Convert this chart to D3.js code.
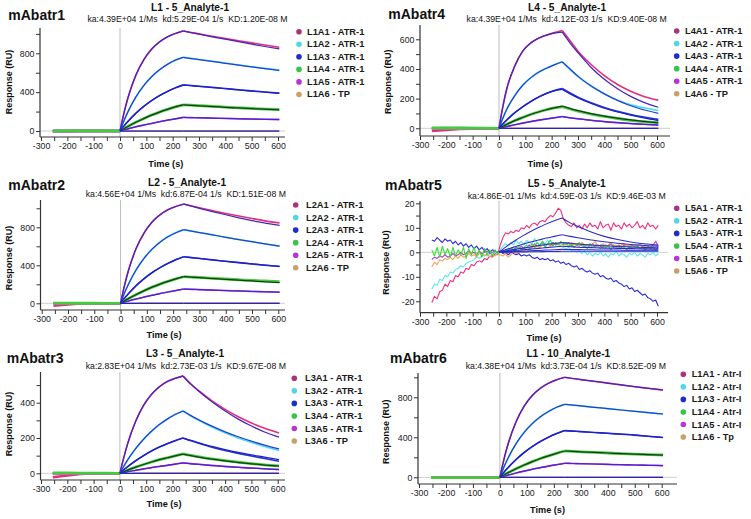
<!DOCTYPE html>
<html><head><meta charset="utf-8">
<script src="https://cdn.jsdelivr.net/npm/d3@7"></script>
<style>body{margin:0;background:#fff}svg{display:block}</style>
</head><body>
<svg id="c" width="751" height="519"></svg>
<script>
// ---------- shared time axes ----------
const T_FULL = [-255,-200,-150,-100,-50,0,15,30,60,90,120,150,180,210,240,270,300,350,400,450,500,550,605];
const T_FIT  = [0,15,30,60,90,120,150,180,210,240,270,300,350,400,450,500,550,605];
const T5 = [-255,-245,-235,-225,-215,-205,-195,-185,-175,-165,-155,-145,-135,-125,-115,-105,-95,-85,-75,-65,-55,-45,-35,-25,-15,-5,
  5,15,25,35,45,55,65,75,85,95,105,115,125,135,145,155,165,175,185,195,205,215,225,235,
  245,255,265,275,285,295,305,315,325,335,345,355,365,375,385,395,405,415,425,435,445,455,465,475,485,495,505,515,525,535,545,555,565,575,585,595,605];
const T5_FIT = [0,30,60,90,120,150,180,210,240,270,300,350,400,450,500,550,605];
const X_TICKS = [-300,-250,-200,-150,-100,-50,0,50,100,150,200,250,300,350,400,450,500,550,600];
const X_LABELS = [-300,-200,-100,0,100,200,300,400,500,600];

// ---------- panel texts ----------
const NAMES = ["mAbatr1","mAbatr2","mAbatr3","mAbatr4","mAbatr5","mAbatr6"];
const TITLES = ["L1 - 5_Analyte-1","L2 - 5_Analyte-1","L3 - 5_Analyte-1","L4 - 5_Analyte-1","L5 - 5_Analyte-1","L1 - 10_Analyte-1"];
const SUBTITLES = [
  "ka:4.39E+04 1/Ms  kd:5.29E-04 1/s  KD:1.20E-08 M",
  "ka:4.56E+04 1/Ms  kd:6.87E-04 1/s  KD:1.51E-08 M",
  "ka:2.83E+04 1/Ms  kd:2.73E-03 1/s  KD:9.67E-08 M",
  "ka:4.39E+04 1/Ms  kd:4.12E-03 1/s  KD:9.40E-08 M",
  "ka:4.86E-01 1/Ms  kd:4.59E-03 1/s  KD:9.46E-03 M",
  "ka:4.38E+04 1/Ms  kd:3.73E-04 1/s  KD:8.52E-09 M"];
const LEGEND_P1 = ["L1A1 - ATR-1","L1A2 - ATR-1","L1A3 - ATR-1","L1A4 - ATR-1","L1A5 - ATR-1","L1A6 - TP"];
const LEGEND_P2 = ["L2A1 - ATR-1","L2A2 - ATR-1","L2A3 - ATR-1","L2A4 - ATR-1","L2A5 - ATR-1","L2A6 - TP"];
const LEGEND_P3 = ["L3A1 - ATR-1","L3A2 - ATR-1","L3A3 - ATR-1","L3A4 - ATR-1","L3A5 - ATR-1","L3A6 - TP"];
const LEGEND_P4 = ["L4A1 - ATR-1","L4A2 - ATR-1","L4A3 - ATR-1","L4A4 - ATR-1","L4A5 - ATR-1","L4A6 - TP"];
const LEGEND_P5 = ["L5A1 - ATR-1","L5A2 - ATR-1","L5A3 - ATR-1","L5A4 - ATR-1","L5A5 - ATR-1","L5A6 - TP"];
const LEGEND_P6 = ["L1A1 - Atr-I","L1A2 - Atr-I","L1A3 - Atr-I","L1A4 - Atr-I","L1A5 - Atr-I","L1A6 - Tp"];

// ---------- P1 (L1 5_Analyte-1) ----------
const P1_DATA = [
  [-3,-1,0,0,0,0, 185,340,573,732,843,917,969,1004,1030, 1015,1000,975,952,930,907,885,862],
  [0,0,0,0,0,0, 106,197,349,467,559,630,686,729,760, 748,737,718,700,681,662,645,628],
  [0,0,0,0,0,0, 52,98,182,253,313,364,407,444,475, 468,461,450,438,425,413,402,390],
  [2,2,2,2,2,0, 24,47,90,128,164,195,223,248,270, 266,261,254,246,239,232,226,222],
  [0,0,0,0,0,0, 11,22,43,61,78,96,111,125,140, 138,136,133,129,126,123,121,120],
  [0,0,0,0,0,0, 1,1,2,2,2,3,3,3,3, 3,3,3,3,3,3,3,3]];
const P1_FIT = [
  [0,185,340,573,732,843,917,969,1004,1030, 1013,997,970,945,920,895,870,845],
  [0,106,197,349,467,559,630,686,729,758, 746,735,716,697,678,660,642,622],
  [0,52,98,182,253,313,364,407,444,473, 466,459,447,435,423,411,400,388],
  [0,24,47,90,128,164,195,223,248,268, 264,259,252,244,237,230,224,217],
  [0,11,22,43,61,78,96,111,125,140, 138,136,133,129,126,123,120,117],
  [0,0,0,0,0,0,0,0,0,0, 0,0,0,0,0,0,0,0]];

// ---------- P2 ----------
const P2_DATA = [
  [-25,-12,-2,0,0,0, 188,345,582,743,856,931,984,1019,1045, 1025,1005,975,946,918,892,868,845],
  [0,0,0,0,0,0, 108,201,356,476,570,643,700,743,775, 760,745,720,695,671,648,625,602],
  [0,0,0,0,0,0, 54,101,188,261,323,375,420,459,490, 481,472,457,442,428,414,401,388],
  [2,2,2,2,1,0, 25,49,93,133,170,202,231,257,280, 276,272,264,256,248,241,235,229],
  [0,0,0,0,0,0, 12,24,46,66,84,103,119,134,150, 147,144,139,134,130,125,121,117],
  [0,0,0,0,0,0, 1,1,1,2,2,2,2,2,2, 2,2,2,2,2,2,2,2]];
const P2_FIT = [
  [0,188,345,582,743,856,931,984,1019,1045, 1022,1000,965,932,900,870,845,820],
  [0,108,201,356,476,570,643,700,743,775, 760,745,720,695,671,648,625,602],
  [0,54,101,188,261,323,375,420,459,490, 481,472,457,442,428,414,401,388],
  [0,25,49,93,133,170,202,231,257,280, 275,270,261,252,243,235,226,218],
  [0,12,24,46,66,84,103,119,134,150, 147,144,139,134,130,125,121,117],
  [0,0,0,0,0,0,0,0,0,0, 0,0,0,0,0,0,0,0]];

// ---------- P3 ----------
const P3_DATA = [
  [-22,-12,-4,0,0,0, 90,170,295,385,447,490,520,538,552, 505,468,410,362,320,285,255,228],
  [0,0,0,0,0,0, 40,77,140,193,238,276,307,333,353, 325,300,262,229,200,175,152,130],
  [0,0,0,0,0,0, 20,38,71,100,126,149,168,185,200, 184,170,148,129,113,98,84,68],
  [3,3,2,2,2,0, 9,18,35,50,64,77,88,99,110, 101,93,82,72,63,55,48,42],
  [0,0,0,0,0,0, 4,9,17,25,32,39,45,52,60, 55,51,45,39,34,30,26,22],
  [0,0,0,0,0,0, 0,0,1,1,1,1,1,1,1, 1,1,1,1,1,1,1,1]];
const P3_FIT = [
  [0,90,170,295,385,447,490,520,538,550, 505,465,405,353,307,268,234,205],
  [0,40,77,140,193,238,276,307,333,353, 327,303,267,235,207,182,160,138],
  [0,20,38,71,100,126,149,168,185,200, 186,173,152,134,118,104,92,78],
  [0,9,18,35,50,64,77,88,99,108, 100,92,80,70,61,54,47,40],
  [0,4,9,17,25,32,39,45,52,58, 54,50,44,38,33,29,25,21],
  [0,0,0,0,0,0,0,0,0,0, 0,0,0,0,0,0,0,0]];

// ---------- P4 ----------
const P4_DATA = [
  [-18,-11,-5,-2,0,0, 150,270,420,520,575,607,628,645,660, 590,520,430,355,295,250,215,190],
  [0,1,1,1,0,0, 70,130,220,290,340,378,405,428,447, 395,350,285,232,190,158,138,120],
  [0,0,0,0,0,0, 30,57,105,145,180,210,235,255,268, 238,210,172,140,114,93,76,60],
  [4,3,3,2,2,0, 14,27,52,73,93,110,125,138,145, 130,116,96,80,66,54,45,38],
  [0,0,0,0,0,0, 6,12,24,35,45,55,63,71,79, 71,64,54,45,38,32,27,22],
  [0,0,0,0,0,0, 0,0,0,0,0,0,0,0,0, 0,0,0,0,0,0,0,0]];
const P4_FIT = [
  [0,150,270,420,520,575,607,628,642,648, 575,510,410,330,267,215,175,142],
  [0,70,130,220,290,340,378,405,428,449, 400,350,285,232,188,152,125,100],
  [0,30,57,105,145,180,210,235,252,262, 232,205,167,135,110,89,70,52],
  [0,14,27,52,73,93,110,125,138,150, 134,119,99,82,68,56,46,36],
  [0,6,12,24,35,45,55,63,71,79, 71,64,54,45,38,32,27,22],
  [0,0,0,0,0,0,0,0,0,0, 0,0,0,0,0,0,0,0]];

// ---------- P5 (noisy) ----------
const P5_DATA = [
  [-20.5,-18,-19,-16,-15.5,-13,-14,-11.5,-12,-9.5,-10,-8,-8.5,-6.5,-7,-5,-5.5,-4,-3.5,-4,-2.5,-3,-1.5,-2,-0.5,-1,
   3,6,8,7.5,8.5,8,9,8.5,10,9.5,11,10,11.5,12,11,12.5,13,12.5,14,15,14.5,16,18,17,
   13.5,12,11,10.5,12,10,11,9.5,11.5,10,12,10.5,11,9.5,12.5,10,11,11.5,9,12,10.5,11,9.5,12,10.5,11.5,10,11,12.5,10,11,9.5,12,10.5,11,9.5,11],
  [-15,-13,-13.5,-11,-11.5,-9.5,-10,-8,-8.5,-7,-6.5,-5.5,-6,-4.5,-4,-3.5,-3,-2,-2.5,-1.5,-1,-1.5,-0.5,-1,0,-0.5,
   1,2.5,3.5,2.5,4,3,5,3.5,4.5,3,5,4,3.5,5.5,4,3,4.5,3.5,5,3,4,3,3.5,2.5,
   2,1.5,2,0.5,1,0,0.5,-0.5,0.5,-1,0,-1.5,-0.5,-1,0,-1.5,-0.5,-2,-0.5,-1,0.5,-1.5,-0.5,-1,-2,-0.5,-1,0,-1.5,-0.5,-1,-2,-0.5,-1,0,-1.5,-0.5],
  [5,4.5,6,5,4,5.5,4.5,5,3.5,4.5,3,4,2.5,3.5,2,3,1.5,2.5,1,2,0.5,1.5,0,1,0.5,0,
   0.5,-0.5,0,-1,0,-0.5,-1,-0.5,-1.5,-1,-1.5,-1,-2,-2.5,-2,-3,-2.5,-3,-2.5,-3.5,-3,-4,-3.5,-4.5,
   -4,-5,-4.5,-5.5,-6,-5.5,-7,-6.5,-7.5,-8,-7.5,-8.5,-9,-8.5,-10,-9.5,-10.5,-11,-10.5,-12,-11.5,-12.5,-13,-14,-13.5,-15,-14.5,-16,-15.5,-16.5,-17.5,-17,-18.5,-19,-20,-19.5,-22],
  [1,-1.5,2,-2,2.5,-1,1.5,-2,2,-1.5,1,-1,2,-2.5,1.5,-1,2,-1.5,1,-2,1.5,-1,1,-1.5,1,-0.5,
   0.5,1,0,1.5,0.5,2,1,2.5,1,2,3,1.5,3.5,2,4,2.5,4.5,2,3.5,5,2.5,4,3,4.5,
   3,4,2.5,3.5,2,3,4,2.5,3,1.5,3.5,2,3,2.5,1.5,3,2,2.5,1,3,2,1.5,2.5,2,1,2.5,1.5,2,3,1.5,2,1,2.5,1.5,2,1,2],
  [-3,-2,-2.5,-1.5,-2,-1,-2,-1.5,-0.5,-1.5,-1,0,-1,-0.5,0.5,-0.5,0,-1,0.5,-0.5,0,0.5,-0.5,0,0.5,0,
   0.5,0,1,0.5,1.5,1,2,1.5,2.5,1.5,2,3,2,3.5,2.5,3,4,3,3.5,2.5,4,3,3.5,4,
   3.5,3,4,2.5,3.5,3,2.5,3.5,2,3,2.5,3.5,2,3,2.5,2,3,2.5,3.5,2,2.5,3,2,3,2.5,2,3,2.5,2,3.5,2,3,2.5,2,3,4.5,2.5],
  [-6,-4,-5,-3,-3.5,-2.5,-3,-2,-3,-1.5,-2.5,-1,-2,-1.5,-0.5,-1.5,-1,-2,-0.5,-1,-1.5,-0.5,-2,-1,-1.5,-0.5,
   -1,-1.5,-0.5,-2,-1,0,-0.5,0.5,1,0.5,1.5,1,2,1.5,2.5,2,3,2.5,3.5,2.5,3,4,3,3.5,
   3,3.5,2.5,4,3,3.5,2.5,4,3,2.5,3.5,3,4.5,2.5,3,3.5,2.5,3,4,2.5,3,2,3,3.5,2.5,3,2,3,2.5,3.5,2,2.5,3,2,2.5,3,2]];
const P5_FIT = [
  [0,2.5,4.7,6.7,8.5,10.1,11.6,12.9,14, 12,10.5,8.3,6.5,5.2,4.2,3.5,3],
  [0,1.2,2.3,3.3,4.2,5,5.8,6.5,7.2, 6.5,5.9,5,4.3,3.7,3.2,2.8,2.5],
  [0,0.6,1.2,1.7,2.2,2.7,3.2,3.6,4, 3.7,3.4,3,2.7,2.4,2.2,2,1.8],
  [0,0.35,0.7,1,1.3,1.6,1.9,2.2,2.5, 2.3,2.1,1.9,1.7,1.6,1.5,1.4,1.3],
  [0,0.15,0.3,0.45,0.6,0.75,0.9,1.05,1.2, 1.15,1.1,1,0.95,0.9,0.85,0.8,0.8],
  [0,0.05,0.1,0.15,0.2,0.25,0.3,0.35,0.4, 0.4,0.4,0.4,0.4,0.4,0.4,0.4,0.4]];

// ---------- P6 (L1 10_Analyte-1) ----------
const P6_DATA = [
  [-5,-5,-5,-5,-5,0, 180,330,556,712,818,890,940,975,1000, 988,977,960,942,924,906,890,873],
  [-5,-5,-5,-5,-5,0, 102,190,336,450,537,605,658,700,730, 722,714,700,687,673,660,647,633],
  [-5,-5,-5,-5,-5,0, 51,96,178,248,307,358,401,437,467, 462,457,448,440,431,422,410,398],
  [-5,-5,-5,-5,-5,0, 23,45,86,123,157,188,215,240,263, 259,255,249,243,237,232,227,223],
  [-5,-5,-5,-5,-5,0, 11,22,43,62,80,96,112,126,140, 138,136,133,129,126,123,120,117],
  [-5,-5,-5,-5,-5,0, 0,0,0,0,0,0,0,0,0, 0,0,0,0,0,0,0,0]];
const P6_FIT = [
  [0,180,330,556,712,818,890,940,975,1000, 988,977,960,942,924,906,890,873],
  [0,102,190,336,450,537,605,658,700,730, 722,714,700,687,673,660,647,633],
  [0,51,96,178,248,307,358,401,437,467, 462,457,448,440,431,422,410,398],
  [0,23,45,86,123,157,188,215,240,263, 259,255,249,243,237,232,227,222],
  [0,11,22,43,62,80,96,112,126,140, 138,136,133,129,126,123,120,117],
  [0,0,0,0,0,0,0,0,0,0, 0,0,0,0,0,0,0,0]];

// ---------- styles ----------
const DATA_COLORS = ["#e2307c","#45dcef","#2233d4","#45cc3a","#b232de","#d6a062"];
const NOISY_COLORS = ["#ec2f80","#5ae6f6","#2a2ad8","#33dd33","#c030e0","#f2a352"];
const FIT_COLORS = ["#4524c0","#2240d0","#2020c4","#103c1c","#4a24c8","#2424c8"];
const LEGEND_COLORS = ["#a8357c","#50d6e8","#1c2ec8","#34c646","#b436d4","#c9a068"];
const DRAW_ORDER = [0,1,2,4,5,3];
const FONT = "'Liberation Sans', Arial, sans-serif";

const panels = [
  {data:P1_DATA, fit:P1_FIT, t:T_FULL, tf:T_FIT, noisy:false, legend:LEGEND_P1,
   xa:41, xb:278, ya:[0,131], yb:[800,53.3], left:40, right:285, top:28, bottom:137,
   yTicks:[0,200,400,600,800,1000], yLabels:[0,400,800],
   name:[8.3,19.5], title:[190,10.5], sub:[187.5,22], leg:[299,31.7,307], ylab:[8.5,82], xlab:[165.8,166.5]},
  {data:P2_DATA, fit:P2_FIT, t:T_FULL, tf:T_FIT, noisy:false, legend:LEGEND_P2,
   xa:41.7, xb:278.3, ya:[0,303.3], yb:[800,227.3], left:40.5, right:285, top:200, bottom:310,
   yTicks:[0,200,400,600,800,1000], yLabels:[0,400,800],
   name:[8.3,190], title:[187,185.5], sub:[185.8,196.5], leg:[295.7,205,306], ylab:[8.5,258], xlab:[164,338]},
  {data:P3_DATA, fit:P3_FIT, t:T_FULL, tf:T_FIT, noisy:false, legend:LEGEND_P3,
   xa:41, xb:277.7, ya:[0,473.3], yb:[400,402.7], left:40.5, right:285, top:372, bottom:480,
   yTicks:[0,100,200,300,400,500], yLabels:[0,200,400],
   name:[6.7,362.7], title:[185,357.3], sub:[185.8,368.5], leg:[294.3,378.3,305], ylab:[8.5,424], xlab:[164,506.7]},
  {data:P4_DATA, fit:P4_FIT, t:T_FULL, tf:T_FIT, noisy:false, legend:LEGEND_P4,
   xa:420, xb:657, ya:[0,128.3], yb:[600,39.3], left:420, right:670, top:25, bottom:136,
   yTicks:[0,100,200,300,400,500,600], yLabels:[0,200,400,600],
   name:[388.3,18.5], title:[567,10.5], sub:[566.7,22], leg:[676.7,31,685], ylab:[387.5,81.7], xlab:[545,166.7]},
  {data:P5_DATA, fit:P5_FIT, t:T5, tf:T5_FIT, noisy:true, legend:LEGEND_P5,
   xa:420, xb:657, ya:[0,252.3], yb:[10,227.8], left:420, right:668, top:201, bottom:312.7,
   yTicks:[-20,-15,-10,-5,0,5,10,15,20], yLabels:[-20,-10,0,10,20],
   name:[385,189.5], title:[566.7,187.3], sub:[566.7,198.5], leg:[676.7,208.3,685], ylab:[385.8,262.5], xlab:[544,340.7]},
  {data:P6_DATA, fit:P6_FIT, t:T_FULL, tf:T_FIT, noisy:false, legend:LEGEND_P6,
   xa:419, xb:661.7, ya:[0,477.3], yb:[800,397.3], left:418, right:677, top:373, bottom:484,
   yTicks:[0,200,400,600,800,1000], yLabels:[0,400,800],
   name:[390,362.7], title:[568.3,356.7], sub:[565.8,368.5], leg:[683.3,374.3,691.7], ylab:[385.8,431.7], xlab:[547.5,513.3]}
];

const svg = d3.select("#c");

panels.forEach((p, pi) => {
  const g = svg.append("g");
  const x = d3.scaleLinear().domain([-300, 600]).range([p.xa, p.xb]);
  const y = d3.scaleLinear().domain([p.ya[0], p.yb[0]]).range([p.ya[1], p.yb[1]]);

  // reference lines
  g.append("line").attr("x1", p.left).attr("x2", p.right).attr("y1", y(0)).attr("y2", y(0))
    .attr("stroke", "#cfcfcf").attr("stroke-width", 1);
  g.append("line").attr("x1", x(0)).attr("x2", x(0)).attr("y1", p.top).attr("y2", p.bottom)
    .attr("stroke", "#bcbcbc").attr("stroke-width", 1);

  // data
  const pts = arr => arr.map((v, i) => [p.t[i], v]).filter(d => d[0] !== undefined);
  const line = d3.line().x(d => x(d[0])).y(d => y(d[1]));
  const dataG = g.append("g").attr("fill", "none");
  DRAW_ORDER.forEach(ci => {
    const P = pts(p.data[ci]);
    if (p.noisy) {
      dataG.append("path").attr("d", line.curve(d3.curveLinear)(P))
        .attr("stroke", NOISY_COLORS[ci]).attr("stroke-width", 1.1).attr("stroke-linejoin", "round");
    } else {
      const i0 = P.findIndex(d => d[0] === 0), i1 = P.findIndex(d => d[0] === 240);
      const segs = [P.slice(0, i0 + 1), P.slice(i0, i1 + 1), P.slice(i1)];
      segs.forEach((s, si) => {
        dataG.append("path").attr("d", line.curve(si === 0 ? d3.curveLinear : d3.curveMonotoneX)(s))
          .attr("stroke", DATA_COLORS[ci]).attr("stroke-width", si === 0 ? 2.6 : (ci === 3 ? 2.8 : 1.6));
      });
    }
  });

  // fits
  const fitG = g.append("g").attr("fill", "none");
  p.fit.forEach((arr, ci) => {
    const P = arr.map((v, i) => [p.tf[i], v]);
    const i1 = P.findIndex(d => d[0] === 240);
    [P.slice(0, i1 + 1), P.slice(i1)].forEach(s => {
      fitG.append("path").attr("d", line.curve(d3.curveMonotoneX)(s))
        .attr("stroke", p.noisy ? "#2a2ac8" : FIT_COLORS[ci]).attr("stroke-width", p.noisy ? 1.05 : 1.25);
    });
  });

  // axes
  const ax = d3.axisBottom(x).tickValues(X_TICKS)
    .tickFormat(d => X_LABELS.includes(d) ? String(d) : "").tickSize(4).tickPadding(2);
  const axG = g.append("g").attr("transform", `translate(0,${p.bottom})`).call(ax);
  axG.select(".domain").remove();
  const ay = d3.axisLeft(y).tickValues(p.yTicks)
    .tickFormat(d => p.yLabels.includes(d) ? String(d) : "").tickSize(4).tickPadding(1.5);
  const ayG = g.append("g").attr("transform", `translate(${p.left},0)`).call(ay);
  ayG.select(".domain").remove();
  [axG, ayG].forEach(s => {
    s.attr("font-family", FONT).attr("font-size", 8.8);
    s.selectAll("line").attr("stroke", "#333");
    s.selectAll("text").attr("fill", "#222");
  });
  g.append("line").attr("x1", p.left).attr("x2", p.right).attr("y1", p.bottom).attr("y2", p.bottom)
    .attr("stroke", "#333").attr("stroke-width", 1.2);
  g.append("line").attr("x1", p.left).attr("x2", p.left).attr("y1", p.top).attr("y2", p.bottom)
    .attr("stroke", "#333").attr("stroke-width", 1.2);

  // texts
  g.append("text").attr("x", p.name[0]).attr("y", p.name[1]).text(NAMES[pi])
    .attr("font-family", FONT).attr("font-weight", "bold").attr("font-size", 14).attr("fill", "#111");
  g.append("text").attr("x", p.title[0]).attr("y", p.title[1]).text(TITLES[pi]).attr("text-anchor", "middle")
    .attr("font-family", FONT).attr("font-weight", "bold").attr("font-size", 10.2).attr("fill", "#111");
  g.append("text").attr("x", p.sub[0]).attr("y", p.sub[1]).text(SUBTITLES[pi]).attr("text-anchor", "middle")
    .attr("font-family", FONT).attr("font-size", 8.7).attr("fill", "#111").style("white-space", "pre");
  g.append("text").attr("transform", `translate(${p.ylab[0]},${p.ylab[1]}) rotate(-90)`)
    .attr("text-anchor", "middle").attr("dominant-baseline", "central").text("Response (RU)")
    .attr("font-family", FONT).attr("font-weight", "bold").attr("font-size", 9).attr("fill", "#111");
  g.append("text").attr("x", p.xlab[0]).attr("y", p.xlab[1]).attr("text-anchor", "middle").text("Time (s)")
    .attr("font-family", FONT).attr("font-weight", "bold").attr("font-size", 9.2).attr("fill", "#111");

  // legend
  const lg = g.append("g");
  p.legend.forEach((lab, i) => {
    const cy = p.leg[1] + i * 12.55;
    lg.append("circle").attr("cx", p.leg[0]).attr("cy", cy).attr("r", 2.8).attr("fill", LEGEND_COLORS[i]);
    lg.append("text").attr("x", p.leg[2]).attr("y", cy).attr("dominant-baseline", "central").text(lab)
      .attr("font-family", FONT).attr("font-weight", "bold").attr("font-size", 9.3).attr("fill", "#1a1a1a");
  });
});
</script>
</body></html>
